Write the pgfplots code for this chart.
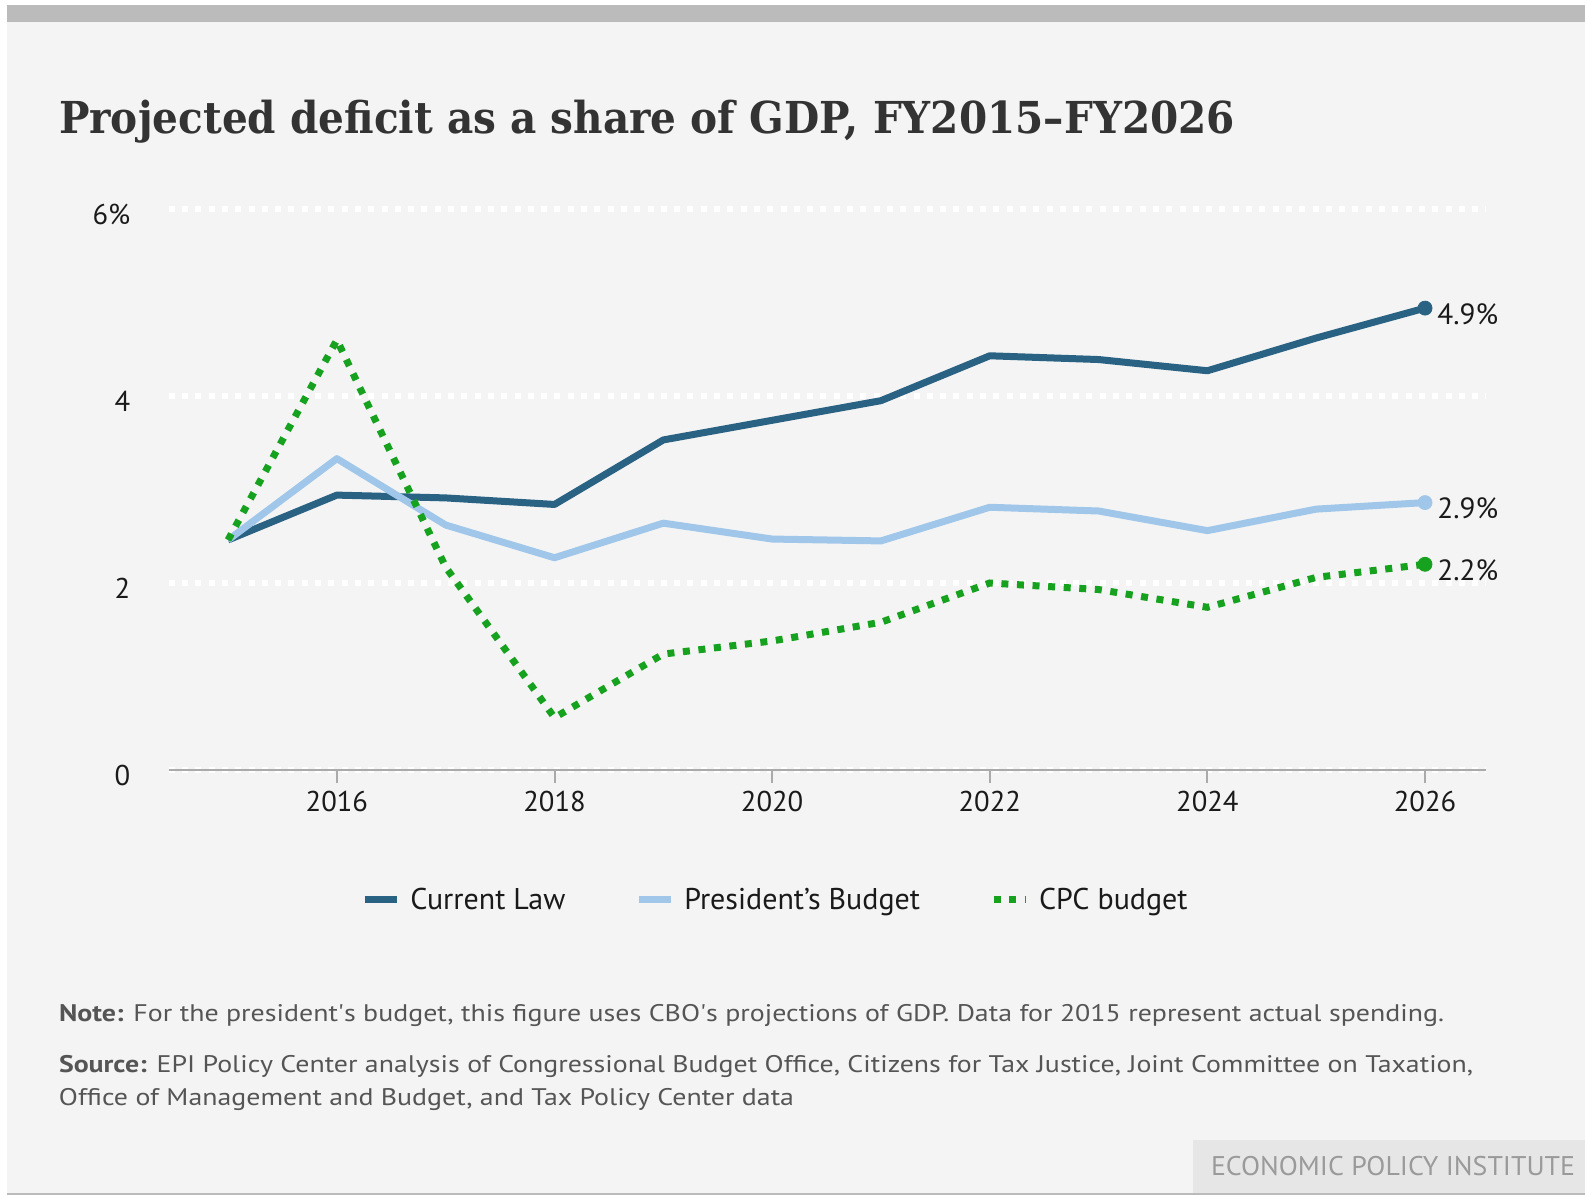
\documentclass[border=0pt]{standalone}
\usepackage{graphicx}
\usepackage{pgfplots}
\pgfplotsset{compat=1.18}
\usepackage{fontspec}
\setmainfont{PT Sans}
\newfontfamily\titlefont{DejaVu Serif}
\definecolor{bg}{HTML}{F4F4F4}
\definecolor{barg}{HTML}{BBBBBB}
\definecolor{epibox}{HTML}{E6E6E6}
\definecolor{epitxt}{HTML}{9A9A9A}
\definecolor{cl}{HTML}{2A6283}
\definecolor{pb}{HTML}{A0C7EA}
\definecolor{cpc}{HTML}{16A11E}
\definecolor{axg}{HTML}{AAAAAA}
\definecolor{txt}{HTML}{1A1A1A}
\definecolor{titlec}{HTML}{333333}
\definecolor{notec}{HTML}{555555}

\pgfplotstableread{
year cl pb cpc
2015 2.46 2.46 2.46
2016 2.94 3.33 4.60
2017 2.91 2.62 2.17
2018 2.84 2.27 0.56
2019 3.53 2.64 1.24
2020 3.74 2.47 1.38
2021 3.95 2.45 1.58
2022 4.43 2.81 2.00
2023 4.39 2.77 1.93
2024 4.27 2.56 1.74
2025 4.62 2.79 2.06
2026 4.94 2.86 2.20
}\deficit

\begin{document}
\begin{tikzpicture}[x=1pt,y=1pt]
\useasboundingbox (0,0) rectangle (792.5,597.5);
\fill[white] (0,0) rectangle (792.5,597.5);
\fill[bg] (3.5,1) rectangle (792.5,586.5);
\fill[barg] (3.5,586.5) rectangle (792.5,595);
\fill[barg] (3.5,0) rectangle (792.5,1.2);
\fill[epibox] (596.5,1.2) rectangle (792.5,27.5);
\node[inner sep=0, text=epitxt] at (696.5,14.5) {\resizebox{182pt}{\height}{\fontsize{13.5}{16}\selectfont ECONOMIC POLICY INSTITUTE}};

\node[anchor=base west, inner sep=0, text=titlec] at (29.3,530.75) {\resizebox{588pt}{\height}{\titlefont\bfseries\fontsize{22}{26}\selectfont Projected deficit as a share of GDP, FY2015–FY2026}};

\node[anchor=base west, inner sep=0, text=notec] at (29.3,87) {\resizebox{692.5pt}{\height}{\fontsize{12}{14}\selectfont\textbf{Note:} For the president\textquotesingle s budget, this figure uses CBO\textquotesingle s projections of GDP. Data for 2015 represent actual spending.}};
\node[anchor=base west, inner sep=0, text=notec] at (29.3,61.5) {\resizebox{707pt}{\height}{\fontsize{12}{14}\selectfont\textbf{Source:} EPI Policy Center analysis of Congressional Budget Office, Citizens for Tax Justice, Joint Committee on Taxation,}};
\node[anchor=base west, inner sep=0, text=notec] at (29.3,45) {\resizebox{367.5pt}{\height}{\fontsize{12}{14}\selectfont Office of Management and Budget, and Tax Policy Center data}};

\begin{axis}[
  at={(84.375pt,212.5pt)}, anchor=south west,
  scale only axis, width=658.6pt, height=280.5pt,
  xmin=2014.455, xmax=2026.56, ymin=0, ymax=6,
  clip=false,
  axis x line*=bottom, axis y line*=left,
  y axis line style={draw=none},
  x axis line style={axg, line width=1.2pt},
  xtick={2016,2018,2020,2022,2024,2026},
  xticklabels={2016,2018,2020,2022,2024,2026},
  ytick={0,2,4,6},
  yticklabels={0,2,4,6\%},
  tick align=outside,
  major tick length=6.5pt,
  x tick style={axg, line width=1pt},
  y tick style={draw=none},
  ymajorgrids,
  grid style={white, line width=3pt, dash pattern=on 3pt off 3.65pt},
  tick label style={font=\fontsize{14.3}{16}\selectfont, text=txt},
  /pgf/number format/assume math mode=true,
  yticklabel style={anchor=east, inner sep=0pt, xshift=-12.6pt, yshift=-2.5pt},
  xticklabel style={anchor=base, inner sep=0pt, yshift=-14pt},
  legend style={at={(0.4614,-0.2317)}, anchor=center, draw=none, fill=none,
    legend columns=3, font=\fontsize{15}{18}\selectfont, text=txt,
    /tikz/every odd column/.append style={column sep=3pt},
    /tikz/every even column/.append style={column sep=33pt}},
  legend image code/.code={\draw[#1] (0pt,0pt) -- (16pt,0pt);},
]
\addplot[cl, line width=3.5pt, line join=round] table[x=year, y=cl] {\deficit};
\addlegendentry{Current Law}
\addplot[pb, line width=3.5pt, line join=round] table[x=year, y=pb] {\deficit};
\addlegendentry{President’s Budget}
\addplot[cpc, line width=3.5pt, dash pattern=on 3.5pt off 4.3pt] table[x=year, y=cpc] {\deficit};
\addlegendentry{CPC budget}
\addplot[cl, only marks, mark=*, mark size=3.5pt, forget plot] coordinates {(2026,4.94)};
\addplot[pb, only marks, mark=*, mark size=3.5pt, forget plot] coordinates {(2026,2.86)};
\addplot[cpc, only marks, mark=*, mark size=3.5pt, forget plot] coordinates {(2026,2.20)};
\node[anchor=west, inner sep=0, text=txt, font=\fontsize{14.6}{16}\selectfont, xshift=6pt, yshift=-3pt] at (axis cs:2026,4.94) {4.9\%};
\node[anchor=west, inner sep=0, text=txt, font=\fontsize{14.6}{16}\selectfont, xshift=6pt, yshift=-3pt] at (axis cs:2026,2.86) {2.9\%};
\node[anchor=west, inner sep=0, text=txt, font=\fontsize{14.6}{16}\selectfont, xshift=6pt, yshift=-3pt] at (axis cs:2026,2.20) {2.2\%};
\end{axis}
\end{tikzpicture}
\end{document}
